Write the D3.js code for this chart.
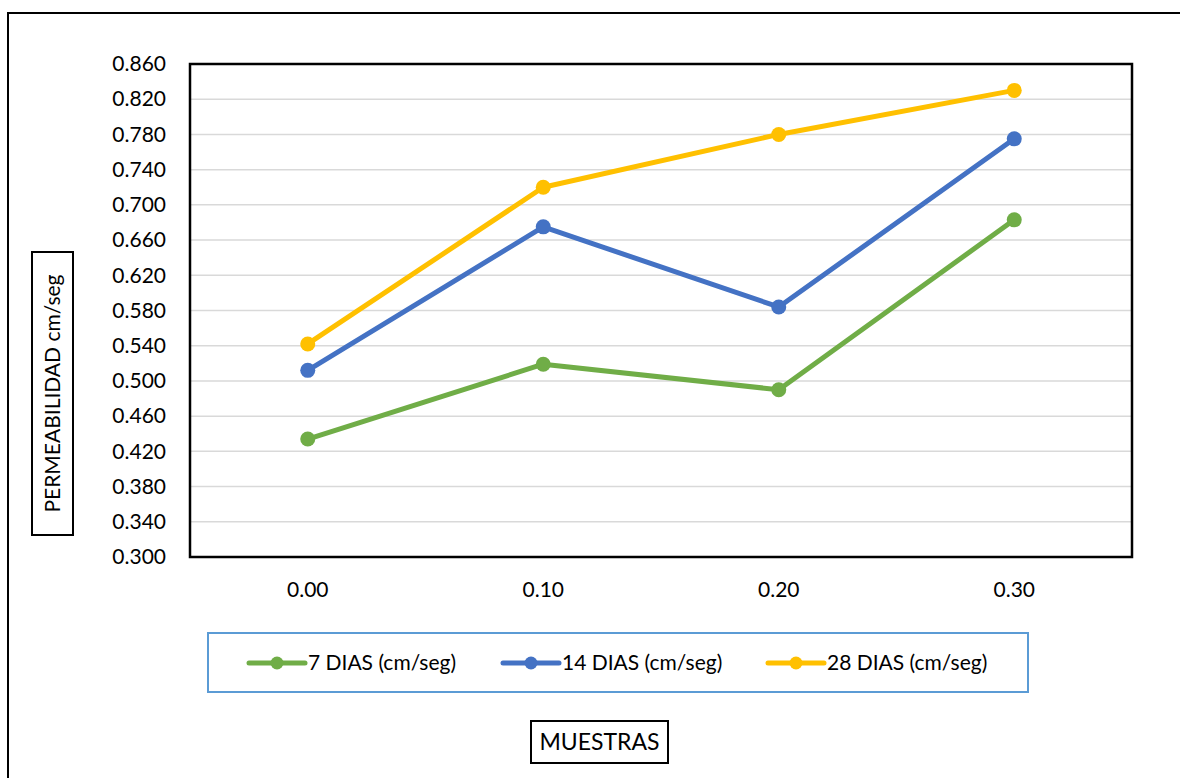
<!DOCTYPE html>
<html>
<head>
<meta charset="utf-8">
<script src="https://cdn.jsdelivr.net/npm/d3@7"></script>
<style>
  html, body { margin: 0; padding: 0; background: #fff; }
  svg { display: block; font-family: Lato, "Open Sans", sans-serif; }
</style>
</head>
<body>
<svg id="chart" width="1180" height="778"></svg>
<script>
// Sample dosages on the horizontal axis
const categories = ["0.00", "0.10", "0.20", "0.30"];

// Permeability (cm/seg) at each curing age
const dias7  = [0.434, 0.519, 0.490, 0.683];
const dias14 = [0.512, 0.675, 0.584, 0.775];
const dias28 = [0.542, 0.720, 0.780, 0.830];

const seriesNames  = ["7 DIAS (cm/seg)", "14 DIAS (cm/seg)", "28 DIAS (cm/seg)"];
const seriesColors = ["#70ad47", "#4472c4", "#ffc000"];

const yTicks = [0.300, 0.340, 0.380, 0.420, 0.460, 0.500, 0.540, 0.580,
                0.620, 0.660, 0.700, 0.740, 0.780, 0.820, 0.860];

const series = [dias7, dias14, dias28].map((vals, i) => ({
  name: seriesNames[i],
  color: seriesColors[i],
  values: vals
}));

const svg = d3.select("#chart");

// Outer chart frame
svg.append("rect")
  .attr("x", 8).attr("y", 13).attr("width", 1200).attr("height", 800)
  .attr("fill", "none").attr("stroke", "#000").attr("stroke-width", 2);

const plot = { left: 190, top: 64, right: 1132, bottom: 557 };

const x = d3.scaleBand()
  .domain(categories)
  .range([plot.left, plot.right]);

const y = d3.scaleLinear()
  .domain([0.300, 0.860])
  .range([plot.bottom, plot.top]);

// Horizontal gridlines
svg.append("g")
  .selectAll("line")
  .data(yTicks.slice(1, -1))
  .join("line")
  .attr("x1", plot.left).attr("x2", plot.right)
  .attr("y1", d => y(d)).attr("y2", d => y(d))
  .attr("stroke", "#d9d9d9").attr("stroke-width", 1.5);

// Y axis labels
const yAxis = d3.axisLeft(y)
  .tickValues(yTicks)
  .tickFormat(d3.format(".3f"))
  .tickSize(0)
  .tickPadding(24);
const gy = svg.append("g")
  .attr("transform", `translate(${plot.left},0)`)
  .call(yAxis);
gy.select(".domain").remove();
gy.selectAll("text").attr("font-size", 21).attr("fill", "#000")
  .attr("font-family", "Lato, sans-serif");

// X axis labels
const xAxis = d3.axisBottom(x).tickSize(0).tickPadding(25);
const gx = svg.append("g")
  .attr("transform", `translate(0,${plot.bottom})`)
  .call(xAxis);
gx.select(".domain").remove();
gx.selectAll("text").attr("font-size", 21).attr("fill", "#000")
  .attr("font-family", "Lato, sans-serif");

// Plot area border
svg.append("rect")
  .attr("x", plot.left).attr("y", plot.top)
  .attr("width", plot.right - plot.left).attr("height", plot.bottom - plot.top)
  .attr("fill", "none").attr("stroke", "#000").attr("stroke-width", 2.5);

// Series lines and markers
const line = d3.line()
  .x((d, i) => x(categories[i]) + x.bandwidth() / 2)
  .y(d => y(d));

const gSeries = svg.append("g")
  .selectAll("g")
  .data(series)
  .join("g");

gSeries.append("path")
  .attr("d", d => line(d.values))
  .attr("fill", "none")
  .attr("stroke", d => d.color)
  .attr("stroke-width", 5)
  .attr("stroke-linejoin", "round");

gSeries.selectAll("circle")
  .data(d => d.values.map((v, i) => ({ v, i, color: d.color })))
  .join("circle")
  .attr("cx", d => x(categories[d.i]) + x.bandwidth() / 2)
  .attr("cy", d => y(d.v))
  .attr("r", 7.5)
  .attr("fill", d => d.color);

// Legend
svg.append("rect")
  .attr("x", 208).attr("y", 633).attr("width", 820).attr("height", 59)
  .attr("fill", "#fff").attr("stroke", "#5b9bd5").attr("stroke-width", 2);

const legendX = [249, 503, 768];
const legend = svg.append("g")
  .selectAll("g")
  .data(series)
  .join("g")
  .attr("transform", (d, i) => `translate(${legendX[i]},663)`);

legend.append("line")
  .attr("x1", 0).attr("x2", 56)
  .attr("stroke", d => d.color).attr("stroke-width", 5)
  .attr("stroke-linecap", "round");
legend.append("circle")
  .attr("cx", 28).attr("r", 6.5)
  .attr("fill", d => d.color);
legend.append("text")
  .attr("x", 59).attr("dy", "0.35em")
  .attr("font-size", 21)
  .text(d => d.name);

// X axis title
svg.append("rect")
  .attr("x", 531).attr("y", 721).attr("width", 137).attr("height", 42)
  .attr("fill", "#fff").attr("stroke", "#000").attr("stroke-width", 2);
svg.append("text")
  .attr("x", 599.5).attr("y", 742).attr("dy", "0.35em")
  .attr("text-anchor", "middle").attr("font-size", 23)
  .text("MUESTRAS");

// Y axis title
svg.append("rect")
  .attr("x", 32).attr("y", 252).attr("width", 41).attr("height", 283)
  .attr("fill", "#fff").attr("stroke", "#000").attr("stroke-width", 2);
svg.append("text")
  .attr("transform", "translate(52.5,393.5) rotate(-90)")
  .attr("dy", "0.35em")
  .attr("text-anchor", "middle").attr("font-size", 21)
  .text("PERMEABILIDAD cm/seg");
</script>
</body>
</html>
